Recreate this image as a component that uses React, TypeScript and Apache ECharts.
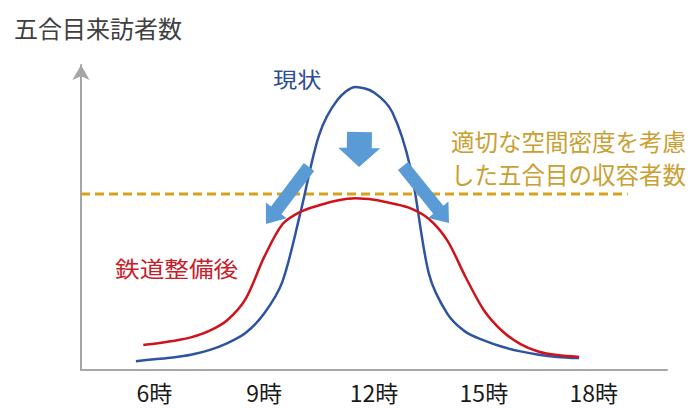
import React, { useEffect, useRef } from "react";
import * as echarts from "echarts";

// Hours on the x axis and their labels
const tickHours = [6, 9, 12, 15, 18];
const tickLabels = ["6時", "9時", "12時", "15時", "18時"];

// 現状 (current) visitor curve: [hour, relative visitors]
const currentHours = [5.5, 6.0, 6.5, 7.0, 7.5, 8.0, 8.5, 9.0, 9.5, 10.0, 10.5, 11.0, 11.5, 12.0, 12.5, 13.0, 13.5, 14.0, 14.5, 15.0, 15.5, 16.0, 16.5, 17.0, 17.6];
const currentValues = [2.9, 3.5, 4.1, 5.0, 6.5, 8.8, 12.2, 18.5, 29.0, 52.0, 77.0, 88.5, 92.8, 91.0, 84.5, 66.0, 31.5, 18.5, 12.5, 9.7, 7.6, 6.1, 5.0, 4.3, 3.9];

// 鉄道整備後 (after railway) visitor curve
const railHours = [5.7, 6.0, 6.5, 7.0, 7.5, 8.0, 8.5, 9.0, 9.5, 10.0, 10.5, 11.0, 11.5, 12.0, 12.5, 13.0, 13.5, 14.0, 14.5, 15.0, 15.5, 16.0, 16.5, 17.0, 17.6];
const railValues = [8.2, 8.6, 9.5, 10.7, 12.8, 16.4, 23.4, 37.0, 47.8, 51.9, 54.0, 55.6, 56.3, 55.8, 54.6, 53.0, 49.5, 42.5, 30.5, 19.6, 12.8, 8.5, 6.0, 4.9, 4.3];

// capacity line (適切な空間密度を考慮した五合目の収容者数)
const capacityHours = [4, 18.93];
const capacityValue = 57.7;

const FONT = "'Noto Sans CJK JP', 'Noto Sans', sans-serif";

function arrowPts(tail: number[], tip: number[], sh: number, hh: number, hl: number) {
  const dx = tip[0] - tail[0];
  const dy = tip[1] - tail[1];
  const L = Math.hypot(dx, dy);
  const ux = dx / L, uy = dy / L;
  const nx = -uy, ny = ux;
  const bx = tip[0] - ux * hl, by = tip[1] - uy * hl;
  return [
    [tail[0] + nx * sh, tail[1] + ny * sh],
    [bx + nx * sh, by + ny * sh],
    [bx + nx * hh, by + ny * hh],
    [tip[0], tip[1]],
    [bx - nx * hh, by - ny * hh],
    [bx - nx * sh, by - ny * sh],
    [tail[0] - nx * sh, tail[1] - ny * sh],
  ];
}

export default function App() {
  const ref = useRef<HTMLDivElement>(null);
  useEffect(() => {
    if (!ref.current) return;
    const chart = echarts.init(ref.current, undefined, { renderer: "svg" });
    const arrowColor = "#5B9BD5";
    chart.setOption({
      animation: false,
      backgroundColor: "#ffffff",
      grid: { left: 81, right: 30, top: 65, bottom: 38, containLabel: false },
      xAxis: {
        type: "value",
        min: 4,
        max: 20,
        axisLine: { show: true, onZero: false, lineStyle: { color: "#A6A6A6", width: 2 } },
        axisTick: { show: false },
        splitLine: { show: false },
        axisLabel: {
          customValues: tickHours,
          formatter: (v: number) => tickLabels[tickHours.indexOf(v)] ?? "",
          color: "#1a1a1a",
          fontSize: 23,
          fontFamily: FONT,
          margin: 10,
        },
      },
      yAxis: {
        type: "value",
        min: 0,
        max: 100,
        axisLine: {
          show: true,
          symbol: ["none", "arrow"],
          symbolSize: [13, 15],
          lineStyle: { color: "#A6A6A6", width: 2 },
        },
        axisTick: { show: false },
        axisLabel: { show: false },
        splitLine: { show: false },
      },
      series: [
        {
          type: "line",
          data: capacityHours.map((h) => [h, capacityValue]),
          showSymbol: false,
          lineStyle: { color: "#D4A21C", width: 3, type: [9, 5] },
          z: 2,
        },
        {
          type: "line",
          data: currentHours.map((h, i) => [h, currentValues[i]]),
          smooth: 0.3,
          showSymbol: false,
          lineStyle: { color: "#2E54A1", width: 2.5 },
          z: 3,
        },
        {
          type: "line",
          data: railHours.map((h, i) => [h, railValues[i]]),
          smooth: 0.3,
          showSymbol: false,
          lineStyle: { color: "#D0121B", width: 2.5 },
          z: 4,
        },
      ],
      graphic: [
        {
          type: "text",
          x: 14,
          y: 27,
          style: { text: "五合目来訪者数", fill: "#404040", fontSize: 24, fontFamily: FONT, align: "left", verticalAlign: "middle" },
        },
        {
          type: "text",
          x: 273,
          y: 78,
          scaleX: 1.15,
          style: { text: "現状", fill: "#2F4F95", fontSize: 21, fontFamily: FONT, align: "left", verticalAlign: "middle" },
        },
        {
          type: "text",
          x: 115,
          y: 268,
          scaleX: 1.12,
          style: { text: "鉄道整備後", fill: "#C8202A", fontSize: 22, fontFamily: FONT, align: "left", verticalAlign: "middle" },
        },
        {
          type: "text",
          x: 451,
          y: 141,
          style: { text: "適切な空間密度を考慮", fill: "#C9A032", fontSize: 23.5, fontFamily: FONT, align: "left", verticalAlign: "middle" },
        },
        {
          type: "text",
          x: 451,
          y: 174,
          style: { text: "した五合目の収容者数", fill: "#C9A032", fontSize: 23.5, fontFamily: FONT, align: "left", verticalAlign: "middle" },
        },
        {
          type: "polygon",
          z: 10,
          shape: { points: arrowPts([359.5, 132], [359, 167], 12.5, 21, 19) },
          style: { fill: arrowColor },
        },
        {
          type: "polygon",
          z: 10,
          shape: { points: arrowPts([309, 167], [266, 224], 6.5, 13, 17) },
          style: { fill: arrowColor },
        },
        {
          type: "polygon",
          z: 10,
          shape: { points: arrowPts([403, 166], [449, 223], 6.5, 13, 17) },
          style: { fill: arrowColor },
        },
      ],
    });
    return () => chart.dispose();
  }, []);
  return (
    <div
      ref={ref}
      style={{ position: "fixed", left: 0, top: 0, width: 697, height: 408, background: "#ffffff" }}
    />
  );
}
